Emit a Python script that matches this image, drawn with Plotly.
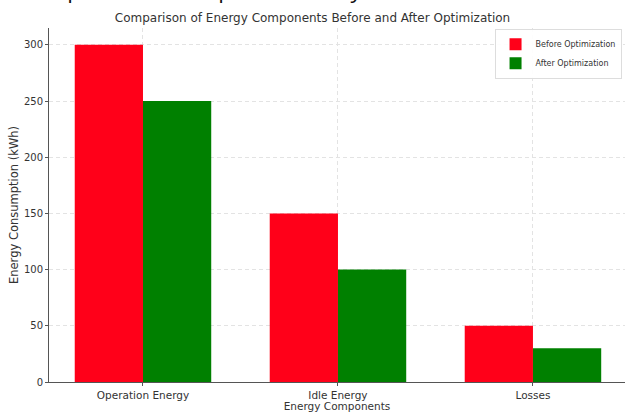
import plotly.graph_objects as go

categories = ["Operation Energy", "Idle Energy", "Losses"]
before_values = [300, 150, 50]
after_values = [250, 100, 30]
y_ticks = [0, 50, 100, 150, 200, 250, 300]

x_idx = list(range(len(categories)))
w = 0.35

fig = go.Figure()
fig.add_trace(go.Bar(
    x=[i - w / 2 for i in x_idx], y=before_values, width=w,
    name="Before Optimization", marker=dict(color="#ff0019", line=dict(width=0)),
))
fig.add_trace(go.Bar(
    x=[i + w / 2 for i in x_idx], y=after_values, width=w,
    name="After Optimization", marker=dict(color="#008000", line=dict(width=0)),
))

font_family = "DejaVu Sans"
fig.update_layout(
    width=625, height=412,
    margin=dict(l=49, r=0, t=28, b=30, autoexpand=False),
    paper_bgcolor="white", plot_bgcolor="white",
    barmode="overlay",
    font=dict(family=font_family, size=10, color="#333333"),
    title=dict(text="Comparison of Energy Components Before and After Optimization",
               x=0.5, xanchor="center", y=1 - 18 / 412, yanchor="middle",
               font=dict(size=12, color="#333333")),
    legend=dict(x=0.994, xanchor="right", y=0.998, yanchor="top",
                bgcolor="rgba(255,255,255,0.9)", bordercolor="#dddddd", borderwidth=1,
                font=dict(size=8, color="#333333"), tracegroupgap=0, itemwidth=30),
    showlegend=True,
)
fig.update_xaxes(
    range=[-0.482, 2.472], tickvals=x_idx, ticktext=categories,
    showline=True, linecolor="#555555", linewidth=1,
    ticks="outside", ticklen=3, tickcolor="#555555",
    showgrid=True, gridcolor="#e3e3e3", griddash="4px,3px", gridwidth=1,
    tickfont=dict(size=10.5, color="#333333"),
    title=dict(text="Energy Components", standoff=1, font=dict(size=10.5, color="#333333")),
    zeroline=False, automargin=False,
)
fig.update_yaxes(
    range=[0, 315], tickvals=y_ticks,
    showline=True, linecolor="#555555", linewidth=1,
    ticks="outside", ticklen=3, tickcolor="#555555",
    showgrid=True, gridcolor="#e3e3e3", griddash="4px,3px", gridwidth=1,
    tickfont=dict(size=10, color="#333333"),
    title=dict(text="Energy Consumption (kWh)", standoff=2, font=dict(size=11.5, color="#333333")),
    zeroline=False, automargin=False,
)

# cut-off document text above the chart
fig.add_annotation(
    text="after optimization of production systems.",
    xref="paper", yref="paper",
    x=-53 / 576, xanchor="left",
    y=(382 - 7) / 354, yanchor="bottom",
    showarrow=False, font=dict(family="Open Sans", size=22.5, color="#111111"),
)

fig.write_html("out.html", config={"displayModeBar": False},
               post_script="document.body.style.margin='0';")
